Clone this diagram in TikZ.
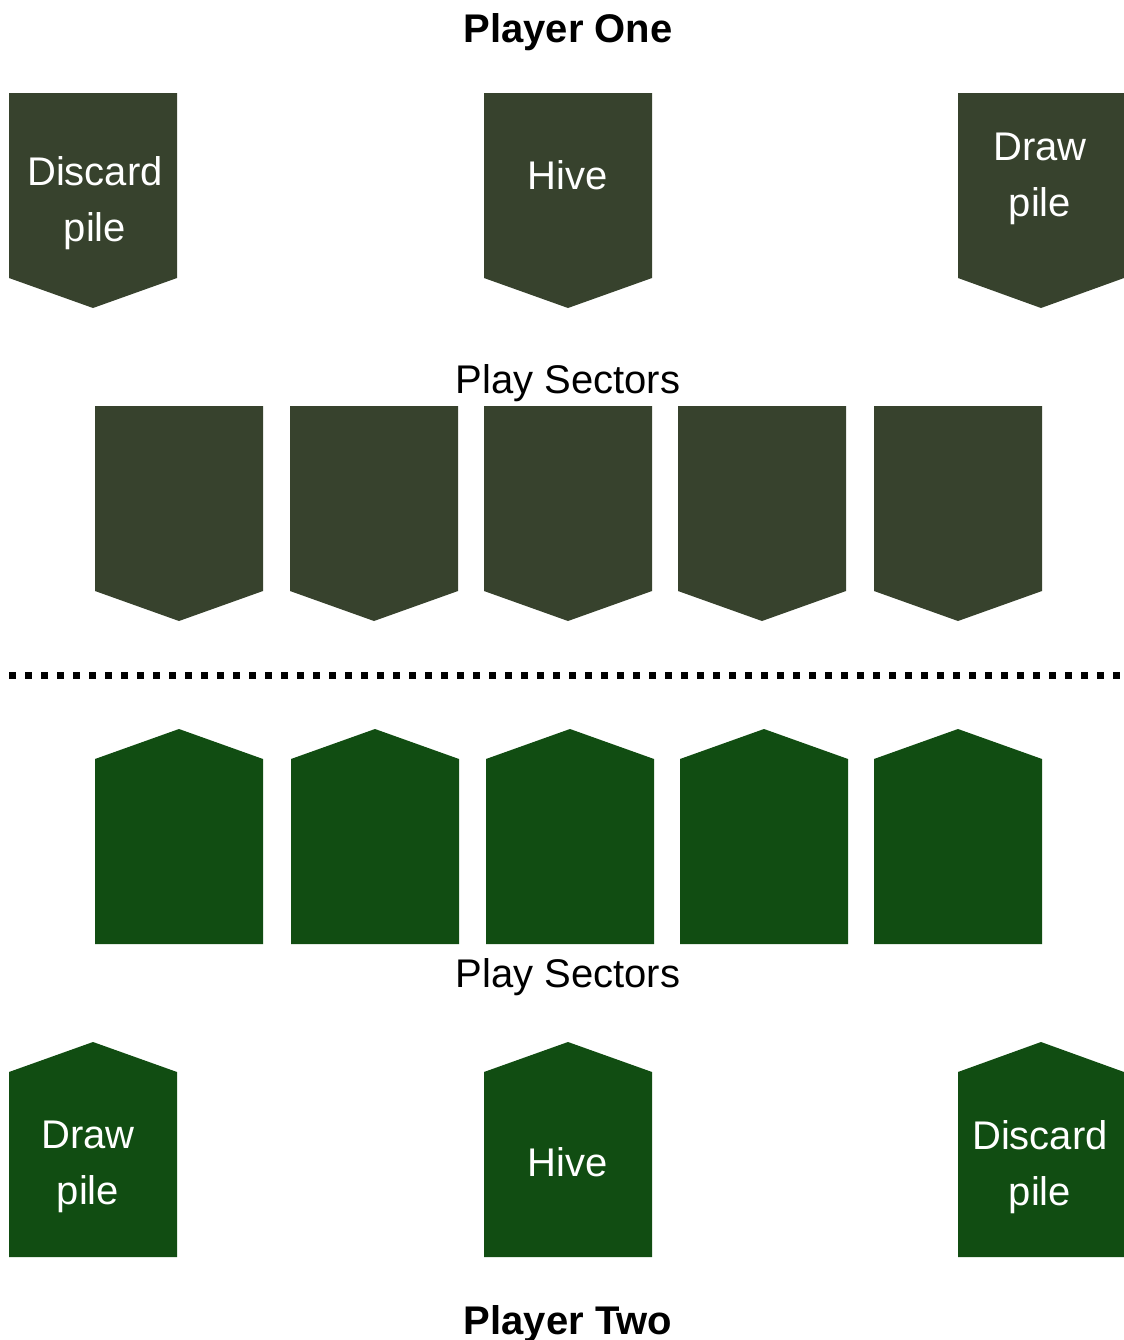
\documentclass[tikz,border=0pt]{standalone}
\usepackage{fontspec}
\setmainfont{Liberation Sans}
\definecolor{cardtop}{HTML}{37422D}
\definecolor{cardbot}{HTML}{114D12}
\newcommand\cardDown[4]{% x, y, width, name
  \fill[cardtop] (#1,#2) coordinate (#4) -- ++(#3,0) -- ++(0,185) -- ++(-#3/2,30) -- ++(-#3/2,-30) -- cycle;}
\newcommand\cardUp[4]{% x, y(tip), width, name
  \fill[cardbot] (#1,#2+30) coordinate (#4) -- ++(#3/2,-30) -- ++(#3/2,30) -- ++(0,185) -- ++(-#3,0) -- cycle;}
\begin{document}
\begin{tikzpicture}[x=0.75pt,y=-0.75pt,
  lbl/.style={text=white,font=\fontsize{30}{42}\selectfont,align=center,inner sep=0pt},
  sect/.style={font=\fontsize{30}{36}\selectfont,inner sep=0pt},
  title/.style={font=\fontsize{30}{36}\selectfont\bfseries,inner sep=0pt}]
\useasboundingbox (0,0) rectangle (1124,1340);
% Player one
\node[title] (p1) at (568,32) {Player One};
\cardDown{9}{93}{168}{c1}
\cardDown{484}{93}{168}{c2}
\cardDown{958}{93}{166}{c3}
\node[lbl] (t1) at (95,203) {Discard\\pile};
\node[lbl] (t2) at (568,175) {Hive};
\node[lbl] (t3) at (1040,179) {Draw\\pile};
\node[sect] (s1) at (568,383) {Play Sectors};
\cardDown{95}{406}{168}{d1}
\cardDown{290}{406}{168}{d2}
\cardDown{484}{406}{168}{d3}
\cardDown{678}{406}{168}{d4}
\cardDown{874}{406}{168}{d5}
% divider
\coordinate (la) at (9,675);
\coordinate (lb) at (1124,675);
\draw[line width=5.25pt,dash pattern=on 5.25pt off 6.75pt] (la) -- (lb);
% Player two
\cardUp{95}{729}{168}{u1}
\cardUp{291}{729}{168}{u2}
\cardUp{486}{729}{168}{u3}
\cardUp{680}{729}{168}{u4}
\cardUp{874}{729}{168}{u5}
\node[sect] (s2) at (568,977) {Play Sectors};
\cardUp{9}{1042}{168}{e1}
\cardUp{484}{1042}{168}{e2}
\cardUp{958}{1042}{166}{e3}
\node[lbl] (b1) at (88,1167) {Draw\\pile};
\node[lbl] (b2) at (568,1162) {Hive};
\node[lbl] (b3) at (1040,1167) {Discard\\pile};
\node[title] (p2) at (568,1324) {Player Two};
\end{tikzpicture}
\end{document}
